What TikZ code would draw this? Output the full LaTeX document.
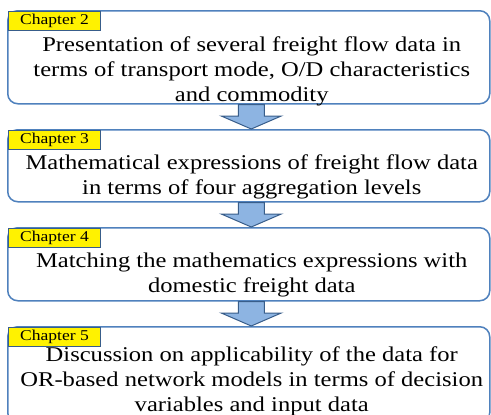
\documentclass[tikz,border=0pt]{standalone}
\usepackage{fontspec}
\setmainfont[FakeStretch=1.17]{Liberation Serif}
\usepackage{xcolor}
\usepackage{tikz}
\usetikzlibrary{positioning,calc}
\definecolor{chapline}{HTML}{4F81BD}
\definecolor{arrfill}{HTML}{8DB4E2}
\definecolor{arrline}{HTML}{385D8A}
\definecolor{tagline}{HTML}{385D8A}
\tikzset{
  chapbox/.style={
    rectangle, rounded corners=10pt, draw=chapline, fill=white,
    line width=1.5pt, minimum width=482pt, inner sep=0pt
  },
  chaptag/.style={
    rectangle, draw=tagline, fill=yellow, line width=1pt,
    minimum width=92pt, minimum height=19pt, inner sep=0pt,
    font=\fontsize{15}{17}\selectfont
  },
  chaptext/.style={align=center, inner sep=0pt, font=\fontsize{21}{25}\selectfont},
  blockarrow/.style={
    draw=arrline, fill=arrfill, line width=1pt, line join=miter,
    to path={let \p1=(\tikztostart), \p2=(\tikztotarget) in
      (\x1-13pt,\y1) -- (\x1-13pt,\y2+13pt) -- (\x1-30pt,\y2+13pt) -- (\x1,\y2)
      -- (\x1+30pt,\y2+13pt) -- (\x1+13pt,\y2+13pt) -- (\x1+13pt,\y1) -- cycle}
  },
}

\begin{document}
\begin{tikzpicture}[x=1pt, y=-1pt, node distance=24.5pt]
  \path[use as bounding box, clip] (0,0) rectangle (491,415);
  % chapter boxes
  \node (b1) [chapbox, minimum height=93pt, anchor=north west] at (7,10) {};
  \node (b2) [chapbox, minimum height=72pt, below=of b1] {};
  \node (b3) [chapbox, minimum height=73pt, below=of b2] {};
  \node (b4) [chapbox, minimum height=96pt, below=of b3] {};
  % yellow tags
  \node (g1) [chaptag, anchor=north west] at ($(b1.north west)+(1,1)$) {Chapter 2};
  \node (g2) [chaptag, anchor=north west] at ($(b2.north west)+(1,1)$) {Chapter 3};
  \node (g3) [chaptag, anchor=north west] at ($(b3.north west)+(1,1)$) {Chapter 4};
  \node (g4) [chaptag, anchor=north west] at ($(b4.north west)+(1,1)$) {Chapter 5};
  % contents (base = last line)
  \node (t1) [chaptext, anchor=base] at ($(g1.south -| b1.center)+(3,70)$)
    {Presentation of several freight flow data in\\terms of transport mode, O/D characteristics\\and commodity};
  \node (t2) [chaptext, anchor=base] at ($(g2.south -| b2.center)+(3,44)$)
    {Mathematical expressions of freight flow data\\in terms of four aggregation levels};
  \node (t3) [chaptext, anchor=base] at ($(g3.south -| b3.center)+(3,44)$)
    {Matching the mathematics expressions with\\domestic freight data};
  \node (t4) [chaptext, anchor=base] at ($(g4.south -| b4.center)+(3,64)$)
    {Discussion on applicability of the data for\\OR-based network models in terms of decision\\variables and input data};
  % arrows
  \draw[blockarrow] ([xshift=2.5pt]b1.south) to ([xshift=2.5pt]b2.north);
  \draw[blockarrow] ([xshift=2.5pt]b2.south) to ([xshift=2.5pt]b3.north);
  \draw[blockarrow] ([xshift=2.5pt]b3.south) to ([xshift=2.5pt]b4.north);
\end{tikzpicture}
\end{document}
